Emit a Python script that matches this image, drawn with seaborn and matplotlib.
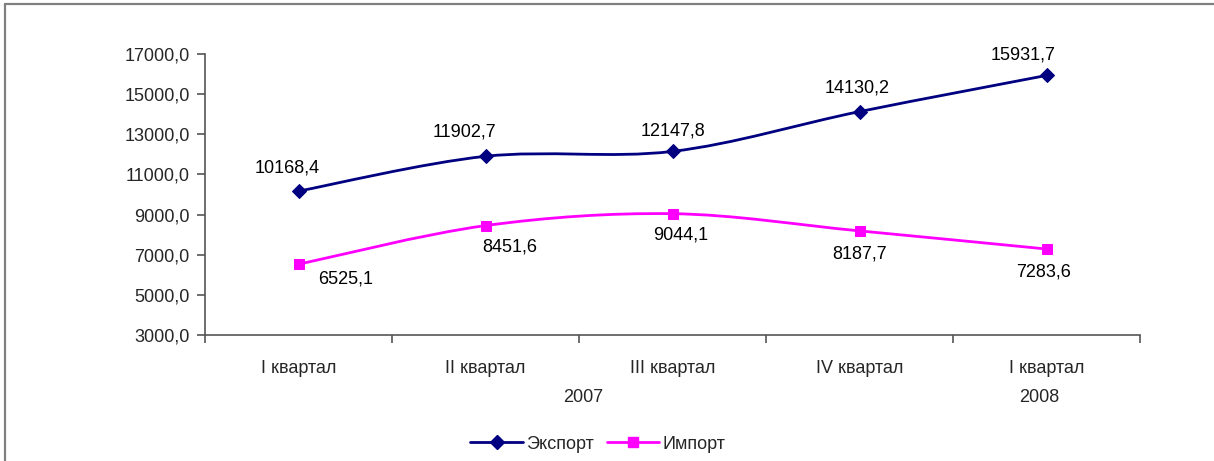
import numpy as np
import pandas as pd
import matplotlib
matplotlib.use("Agg")
import matplotlib.pyplot as plt
import seaborn as sns
from matplotlib.path import Path
from matplotlib.patches import PathPatch
from matplotlib.lines import Line2D

quarters = ["I квартал", "II квартал", "III квартал", "IV квартал", "I квартал"]
years = ["2007", "2008"]
export_vals = [10168.4, 11902.7, 12147.8, 14130.2, 15931.7]
import_vals = [6525.1, 8451.6, 9044.1, 8187.7, 7283.6]
series_names = ["Экспорт", "Импорт"]
y_ticks = [3000, 5000, 7000, 9000, 11000, 13000, 15000, 17000]

# label placement (pixel offsets from the point, as in the original)
export_label_dx = [-11, -21, 0, -2, -23]
export_label_dy = [23, 24, 20, 24, 20]
import_label_dx = [47, 24, 8, 0, -3]
import_label_dy = [-15, -21, -21, -23, -23]
year_label_x = [1.52, 3.96]

sns.set_theme(style="white")
plt.rcParams["font.family"] = ["Liberation Sans", "DejaVu Sans"]

FS = 13
W, H = 1214, 461
fig = plt.figure(figsize=(W / 100, H / 100), dpi=100)
ax = fig.add_axes([205 / W, 1 - 335 / H, (1140 - 205) / W, (335 - 54) / H])

idx = list(range(len(quarters)))
df = pd.DataFrame({
    "idx": idx * 2,
    "value": export_vals + import_vals,
    "series": [series_names[0]] * len(idx) + [series_names[1]] * len(idx),
})
colors = {"Экспорт": "#000080", "Импорт": "#FF00FF"}
markers = {"Экспорт": "D", "Импорт": "s"}
sizes = {"Экспорт": 7.5, "Импорт": 7.5}


def smooth_path(xs, ys):
    pts = np.column_stack([xs, ys]).astype(float)
    n = len(pts)
    verts = [pts[0]]
    codes = [Path.MOVETO]
    for i in range(n - 1):
        p0 = pts[i - 1] if i > 0 else pts[i]
        p1 = pts[i]
        p2 = pts[i + 1]
        p3 = pts[i + 2] if i + 2 < n else pts[i + 1]
        c1 = p1 + (p2 - p0) / 6.0
        c2 = p2 - (p3 - p1) / 6.0
        verts += [c1, c2, p2]
        codes += [Path.CURVE4] * 3
    return Path(verts, codes)


for name, vals in zip(series_names, [export_vals, import_vals]):
    patch = PathPatch(smooth_path(idx, vals), facecolor="none",
                      edgecolor=colors[name], lw=2.0, zorder=2)
    ax.add_patch(patch)
    sub = df[df["series"] == name]
    sns.lineplot(data=sub, x="idx", y="value", ax=ax, color=colors[name],
                 marker=markers[name], markersize=sizes[name],
                 markeredgecolor=colors[name], linewidth=0, zorder=3,
                 legend=False)

# data labels
for i, v in enumerate(export_vals):
    ax.annotate(f"{v:.1f}".replace(".", ","), (i, v),
                xytext=(export_label_dx[i], export_label_dy[i]),
                textcoords="offset pixels", ha="center", va="center",
                fontsize=FS, color="black")
for i, v in enumerate(import_vals):
    ax.annotate(f"{v:.1f}".replace(".", ","), (i, v),
                xytext=(import_label_dx[i], import_label_dy[i]),
                textcoords="offset pixels", ha="center", va="center",
                fontsize=FS, color="black")

ax.set_xlim(-0.5, len(quarters) - 0.5)
ax.set_ylim(3000, 17000)
ax.set_yticks(y_ticks)
ax.set_yticklabels([f"{t:.1f}".replace(".", ",") for t in y_ticks], fontsize=FS)
ax.set_xticks(idx)
ax.set_xticklabels(quarters, fontsize=FS)
ax.set_xticks(np.arange(-0.5, len(quarters), 1.0), minor=True)
ax.tick_params(axis="x", which="major", length=0, pad=18)
ax.tick_params(axis="x", which="minor", length=6, width=1.2, color="#555555",
               direction="out", bottom=True)
ax.tick_params(axis="y", length=6, width=1.2, color="#555555", direction="out",
               left=True, pad=5)
ax.set_xlabel("")
ax.set_ylabel("")
for s in ["top", "right"]:
    ax.spines[s].set_visible(False)
for s in ["left", "bottom"]:
    ax.spines[s].set_color("#555555")
    ax.spines[s].set_linewidth(1.2)

# year labels
for yx, ytxt in zip(year_label_x, years):
    ax.text(yx, -0.222, ytxt, transform=ax.get_xaxis_transform(),
            ha="center", va="center", fontsize=FS)

# legend
handles = [Line2D([0], [0], color=colors[n], lw=2.0, marker=markers[n],
                  markersize=sizes[n], markeredgecolor=colors[n])
           for n in series_names]
fig.legend(handles, series_names, loc="center", bbox_to_anchor=(598 / W, 1 - 444 / H),
           ncol=2, frameon=False, fontsize=FS, handlelength=2.9,
           columnspacing=0.7, handletextpad=0.2)

# outer frame (partially visible)
fig.add_artist(Line2D([5 / W, 1.0], [1 - 4 / H, 1 - 4 / H], transform=fig.transFigure,
                      color="#808080", lw=1.6))
fig.add_artist(Line2D([5 / W, 5 / W], [0, 1 - 4 / H], transform=fig.transFigure,
                      color="#808080", lw=1.6))

fig.savefig("out.png", dpi=100, facecolor="white")
